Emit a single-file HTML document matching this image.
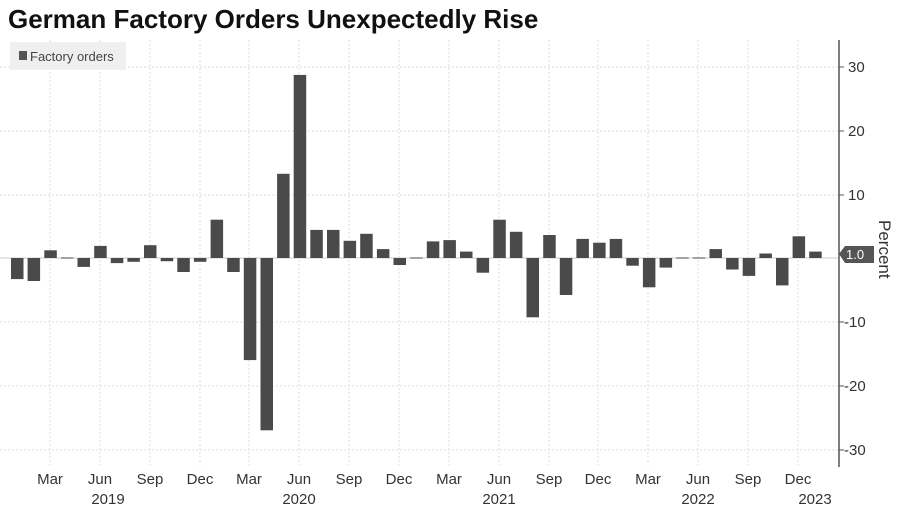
<!DOCTYPE html>
<html><head><meta charset="utf-8"><style>
body{margin:0;background:#fff;}
svg{display:block;font-family:"Liberation Sans","DejaVu Sans",sans-serif;}
</style></head><body>
<svg width="900" height="510" viewBox="0 0 900 510" xmlns="http://www.w3.org/2000/svg">
<rect width="900" height="510" fill="#fff"/>
<text x="8" y="28" font-size="26" font-weight="bold" fill="#111">German Factory Orders Unexpectedly Rise</text>
<g stroke="#ddd" stroke-width="1" stroke-dasharray="2,2">
<line x1="0" y1="67" x2="839" y2="67"/><line x1="0" y1="131" x2="839" y2="131"/><line x1="0" y1="195" x2="839" y2="195"/><line x1="0" y1="322" x2="839" y2="322"/><line x1="0" y1="386" x2="839" y2="386"/><line x1="0" y1="450" x2="839" y2="450"/>
<line x1="50" y1="40" x2="50" y2="465"/><line x1="100" y1="40" x2="100" y2="465"/><line x1="150" y1="40" x2="150" y2="465"/><line x1="200" y1="40" x2="200" y2="465"/><line x1="249" y1="40" x2="249" y2="465"/><line x1="299" y1="40" x2="299" y2="465"/><line x1="349" y1="40" x2="349" y2="465"/><line x1="399" y1="40" x2="399" y2="465"/><line x1="449" y1="40" x2="449" y2="465"/><line x1="499" y1="40" x2="499" y2="465"/><line x1="549" y1="40" x2="549" y2="465"/><line x1="598" y1="40" x2="598" y2="465"/><line x1="648" y1="40" x2="648" y2="465"/><line x1="698" y1="40" x2="698" y2="465"/><line x1="748" y1="40" x2="748" y2="465"/><line x1="798" y1="40" x2="798" y2="465"/>
</g>
<line x1="0" y1="258" x2="839" y2="258" stroke="#ccc" stroke-width="1"/>
<rect x="10" y="42" width="116" height="28" fill="#efefef"/>
<rect x="19" y="51" width="8" height="9" fill="#555"/>
<text x="30" y="61" font-size="13" fill="#444">Factory orders</text>
<g fill="#4a4a4a">
<rect x="11.0" y="258" width="12.5" height="21.1"/>
<rect x="27.6" y="258" width="12.5" height="23.0"/>
<rect x="44.3" y="250.3" width="12.5" height="7.7"/>
<rect x="60.9" y="257.5" width="12.5" height="1"/>
<rect x="77.5" y="258" width="12.5" height="8.9"/>
<rect x="94.2" y="245.9" width="12.5" height="12.1"/>
<rect x="110.8" y="258" width="12.5" height="5.1"/>
<rect x="127.4" y="258" width="12.5" height="3.8"/>
<rect x="144.0" y="245.2" width="12.5" height="12.8"/>
<rect x="160.7" y="258" width="12.5" height="3.2"/>
<rect x="177.3" y="258" width="12.5" height="14.0"/>
<rect x="193.9" y="258" width="12.5" height="3.8"/>
<rect x="210.6" y="219.7" width="12.5" height="38.3"/>
<rect x="227.2" y="258" width="12.5" height="14.0"/>
<rect x="243.8" y="258" width="12.5" height="102.1"/>
<rect x="260.5" y="258" width="12.5" height="172.3"/>
<rect x="277.1" y="173.8" width="12.5" height="84.2"/>
<rect x="293.7" y="74.9" width="12.5" height="183.1"/>
<rect x="310.3" y="229.9" width="12.5" height="28.1"/>
<rect x="327.0" y="229.9" width="12.5" height="28.1"/>
<rect x="343.6" y="240.8" width="12.5" height="17.2"/>
<rect x="360.2" y="233.8" width="12.5" height="24.2"/>
<rect x="376.9" y="249.1" width="12.5" height="8.9"/>
<rect x="393.5" y="258" width="12.5" height="7.0"/>
<rect x="410.1" y="257.5" width="12.5" height="1"/>
<rect x="426.8" y="241.4" width="12.5" height="16.6"/>
<rect x="443.4" y="240.1" width="12.5" height="17.9"/>
<rect x="460.0" y="251.6" width="12.5" height="6.4"/>
<rect x="476.6" y="258" width="12.5" height="14.7"/>
<rect x="493.3" y="219.7" width="12.5" height="38.3"/>
<rect x="509.9" y="231.8" width="12.5" height="26.2"/>
<rect x="526.5" y="258" width="12.5" height="59.3"/>
<rect x="543.2" y="235" width="12.5" height="23.0"/>
<rect x="559.8" y="258" width="12.5" height="37.0"/>
<rect x="576.4" y="238.9" width="12.5" height="19.1"/>
<rect x="593.1" y="242.7" width="12.5" height="15.3"/>
<rect x="609.7" y="238.9" width="12.5" height="19.1"/>
<rect x="626.3" y="258" width="12.5" height="7.7"/>
<rect x="642.9" y="258" width="12.5" height="29.3"/>
<rect x="659.6" y="258" width="12.5" height="9.6"/>
<rect x="676.2" y="257.5" width="12.5" height="1"/>
<rect x="692.8" y="257.5" width="12.5" height="1"/>
<rect x="709.5" y="249.1" width="12.5" height="8.9"/>
<rect x="726.1" y="258" width="12.5" height="11.5"/>
<rect x="742.7" y="258" width="12.5" height="17.9"/>
<rect x="759.4" y="253.5" width="12.5" height="4.5"/>
<rect x="776.0" y="258" width="12.5" height="27.4"/>
<rect x="792.6" y="236.3" width="12.5" height="21.7"/>
<rect x="809.2" y="251.6" width="12.5" height="6.4"/>
</g>
<line x1="839" y1="40" x2="839" y2="467" stroke="#555" stroke-width="1.5"/>
<g stroke="#555" stroke-width="1"><line x1="839" y1="67" x2="844" y2="67"/><line x1="839" y1="131" x2="844" y2="131"/><line x1="839" y1="195" x2="844" y2="195"/><line x1="839" y1="322" x2="844" y2="322"/><line x1="839" y1="386" x2="844" y2="386"/><line x1="839" y1="450" x2="844" y2="450"/></g>
<g font-size="15" fill="#333">
<text x="848" y="72">30</text><text x="848" y="136">20</text><text x="848" y="200">10</text>
<text x="844" y="327">-10</text><text x="844" y="391">-20</text><text x="844" y="455">-30</text>
</g>
<path d="M839 254 L845 246 L874 246 L874 263 L845 263 Z" fill="#555"/>
<text x="846" y="259" font-size="13" fill="#fff">1.0</text>
<text transform="translate(879,220) rotate(90)" font-size="17" fill="#333">Percent</text>
<g font-size="15" fill="#333" text-anchor="middle">
<text x="50" y="484">Mar</text><text x="100" y="484">Jun</text><text x="150" y="484">Sep</text><text x="200" y="484">Dec</text>
<text x="249" y="484">Mar</text><text x="299" y="484">Jun</text><text x="349" y="484">Sep</text><text x="399" y="484">Dec</text>
<text x="449" y="484">Mar</text><text x="499" y="484">Jun</text><text x="549" y="484">Sep</text><text x="598" y="484">Dec</text>
<text x="648" y="484">Mar</text><text x="698" y="484">Jun</text><text x="748" y="484">Sep</text><text x="798" y="484">Dec</text>
<text x="108" y="504">2019</text><text x="299" y="504">2020</text><text x="499" y="504">2021</text><text x="698" y="504">2022</text><text x="815" y="504">2023</text>
</g>
</svg>
</body></html>
